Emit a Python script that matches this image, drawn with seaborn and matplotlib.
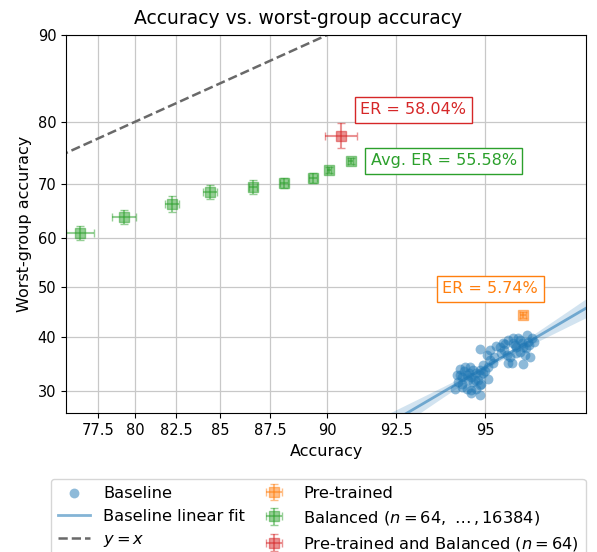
import math
from statistics import NormalDist

import numpy as np
import pandas as pd
import matplotlib
matplotlib.use("Agg")
import matplotlib.pyplot as plt
import seaborn as sns

# Baseline models (accuracy %, worst-group accuracy %)
baseline_acc = [94.86, 95.52, 95.62, 95.90, 95.93, 95.83, 95.69, 95.33, 95.25, 95.43,
                95.55, 95.48, 95.76, 95.86, 95.96, 95.83, 95.52, 95.59, 95.10, 95.03,
                95.10, 95.18, 95.06, 94.95, 94.86, 94.95, 94.36, 94.50, 94.62, 94.70,
                94.28, 94.41, 94.54, 94.66, 94.78, 94.86, 94.32, 94.43, 94.57, 94.70,
                94.82, 94.23, 94.41, 94.54, 94.66, 94.78, 94.86, 94.66, 94.86, 95.06,
                95.62, 95.76, 96.00, 95.40, 96.04, 95.69, 95.36, 95.21, 95.80, 95.95,
                95.66, 94.38, 94.60, 94.74, 95.00, 94.46, 94.90, 95.72, 95.88, 95.45]
baseline_wga = [37.7, 39.5, 39.8, 40.5, 39.2, 38.2, 38.1, 38.1, 38.3, 37.5,
                36.3, 36.6, 37.2, 36.6, 36.3, 34.8, 35.1, 35.0, 37.5, 36.6,
                35.6, 35.0, 34.4, 34.7, 33.8, 33.2, 34.0, 34.4, 34.4, 33.8,
                32.8, 32.5, 32.8, 32.5, 33.2, 32.8, 31.6, 31.3, 31.9, 31.6,
                31.9, 30.4, 30.7, 30.4, 30.1, 30.4, 31.0, 29.6, 29.3, 32.2,
                38.9, 39.5, 39.8, 38.9, 39.2, 36.9, 36.9, 36.3, 39.0, 38.6,
                38.6, 32.9, 33.3, 32.0, 33.6, 33.5, 31.2, 39.9, 38.0, 38.7]

# Balanced fine-tuning, n = 64 ... 16384
balanced_acc = [76.26, 79.27, 82.25, 84.45, 86.67, 88.14, 89.43, 90.09, 90.92]
balanced_acc_err = [0.99, 0.79, 0.42, 0.38, 0.20, 0.18, 0.17, 0.08, 0.10]
balanced_wga = [60.95, 64.03, 66.36, 68.66, 69.55, 70.15, 71.03, 72.45, 74.01]
balanced_wga_err = [1.36, 1.33, 1.48, 1.26, 1.24, 0.88, 0.87, 0.50, 0.50]

pretrained_acc, pretrained_acc_err = [95.83], [0.06]
pretrained_wga, pretrained_wga_err = [44.39], [0.60]

pt_bal_acc, pt_bal_acc_err = [90.53], [0.62]
pt_bal_wga, pt_bal_wga_err = [77.95], [1.88]

x_ticks = [77.5, 80, 82.5, 85, 87.5, 90, 92.5, 95]
y_ticks = [30, 40, 50, 60, 70, 80, 90]
x_lim = (75.26, 96.97)
y_lim = (26.16, 90)

# probit scale (no scipy here)
_nd = NormalDist()
_ppf = np.vectorize(lambda p: _nd.inv_cdf(min(max(p, 1e-9), 1 - 1e-9)), otypes=[float])
_cdf = np.vectorize(lambda z: 0.5 * (1 + math.erf(z / math.sqrt(2))), otypes=[float])


def probit(v):
    return _ppf(np.asarray(v, dtype=float) / 100)


def inv_probit(z):
    return 100 * _cdf(np.asarray(z, dtype=float))


fig, ax = plt.subplots(figsize=(5.97, 5.52), dpi=100)
fig.subplots_adjust(left=0.1106, right=0.9822, top=0.9366, bottom=0.2513)
ax.set_xscale("function", functions=(probit, inv_probit))
ax.set_yscale("function", functions=(probit, inv_probit))

df = pd.DataFrame({"acc": baseline_acc, "wga": baseline_wga})
sns.scatterplot(data=df, x="acc", y="wga", ax=ax, color="C0", alpha=0.5, s=50,
                linewidth=0, label="Baseline", zorder=3)

# linear fit in probit space with 95% band
zx = probit(baseline_acc)
zy = probit(baseline_wga)
slope, intercept = np.polyfit(zx, zy, 1)
grid = np.linspace(probit(x_lim[0]), probit(x_lim[1]), 300)
pred = intercept + slope * grid
resid = zy - (intercept + slope * zx)
s = np.sqrt(np.sum(resid ** 2) / (len(zx) - 2))
se = s * np.sqrt(1 / len(zx) + (grid - zx.mean()) ** 2 / np.sum((zx - zx.mean()) ** 2))
ax.fill_between(inv_probit(grid), inv_probit(pred - 1.96 * se), inv_probit(pred + 1.96 * se),
                color="C0", alpha=0.2, linewidth=0)
ax.plot(inv_probit(grid), inv_probit(pred), color="C0", alpha=0.55, lw=2,
        label="Baseline linear fit")

diag = np.linspace(1, 99, 200)
ax.plot(diag, diag, ls="--", color="dimgray", lw=1.8, label="$y = x$")

ekw = dict(fmt="s", alpha=0.5, capsize=3, markersize=6.5, elinewidth=1.5)
ax.errorbar(pretrained_acc, pretrained_wga, xerr=pretrained_acc_err, yerr=pretrained_wga_err,
            color="C1", label="Pre-trained", **ekw)
ax.errorbar(balanced_acc, balanced_wga, xerr=balanced_acc_err, yerr=balanced_wga_err,
            color="C2", label=r"Balanced ($n = 64,\ \ldots\,, 16384$)", **ekw)
ax.errorbar(pt_bal_acc, pt_bal_wga, xerr=pt_bal_acc_err, yerr=pt_bal_wga_err,
            color="C3", label=r"Pre-trained and Balanced ($n = 64$)", **ekw)

ax.set_xlim(*x_lim)
ax.set_ylim(*y_lim)
ax.set_xticks(x_ticks)
ax.set_xticklabels([f"{t:g}" for t in x_ticks])
ax.set_yticks(y_ticks)
ax.set_yticklabels([str(t) for t in y_ticks])
ax.minorticks_off()
ax.tick_params(labelsize=10.5)
ax.grid(True, color="#c8c8c8", lw=0.9)
ax.set_axisbelow(True)

fig.suptitle("Accuracy vs. worst-group accuracy", fontsize=13.5, y=1 - 18 / 552, va="center")
ax.set_xlabel("Accuracy", fontsize=11.5)
ax.set_ylabel("Worst-group accuracy", fontsize=11.5)

for (tx, ty, txt, col) in [(0.667, 0.802, "ER = 58.04%", "C3"),
                           (0.726, 0.667, "Avg. ER = 55.58%", "C2"),
                           (0.815, 0.329, "ER = 5.74%", "C1")]:
    ax.text(tx, ty, txt, transform=ax.transAxes, ha="center", va="center", color=col,
            fontsize=11.5, bbox=dict(boxstyle="square,pad=0.35", fc="white", ec=col))

ax.legend(loc="upper left", bbox_to_anchor=(51 / 597, 1 - 479 / 552),
          bbox_transform=fig.transFigure, borderaxespad=0, ncol=2, fontsize=11.7,
          columnspacing=0.8)

plt.savefig("out.png", dpi=100)
